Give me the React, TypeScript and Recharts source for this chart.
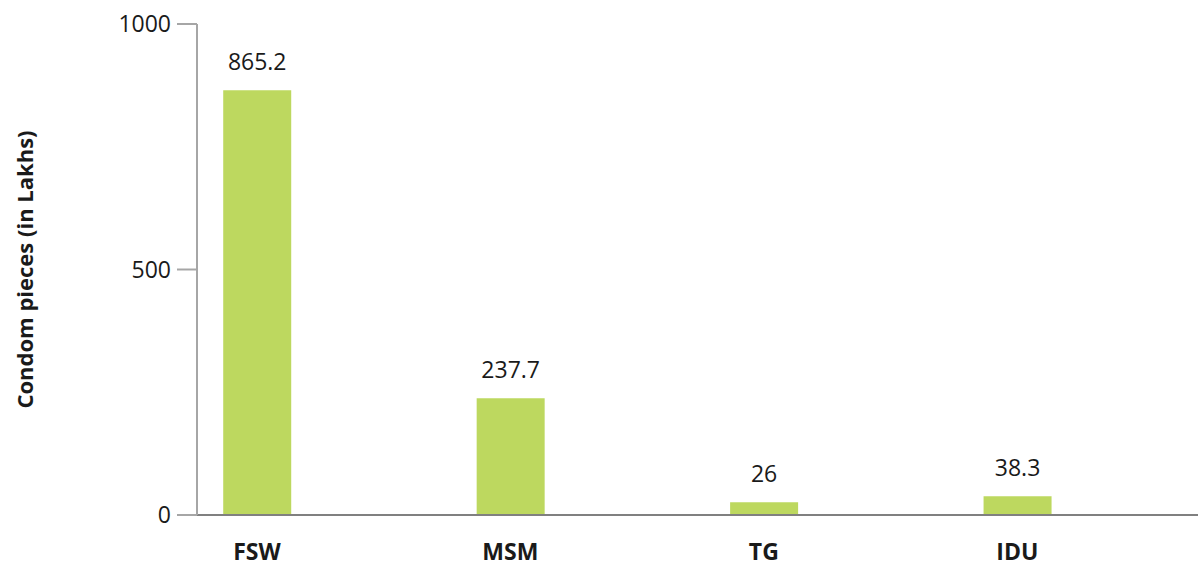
import { BarChart, Bar, XAxis, YAxis, LabelList, Label } from 'recharts';

const categories = ['FSW', 'MSM', 'TG', 'IDU'];
const values = [865.2, 237.7, 26, 38.3];
const yTicks = [0, 500, 1000];

const data = categories.map((name, i) => ({ pos: i, name, value: values[i] }));

const FONT = '"Open Sans", "Noto Sans", sans-serif';

const App = () => {
  return (
    <div style={{ position: 'absolute', left: 0, top: 0, width: 1198, height: 567, background: '#fff' }}>
      <BarChart
        width={1198}
        height={567}
        data={data}
        margin={{ top: 24, right: 0, left: 0, bottom: 22 }}
        barSize={68}
      >
        <XAxis
          dataKey="pos"
          type="number"
          domain={[-0.2365, 3.713]}
          ticks={[0, 1, 2, 3]}
          tickFormatter={(v: number) => categories[v]}
          allowDataOverflow
          tickLine={false}
          tickSize={0}
          tickMargin={29}
          axisLine={{ stroke: '#808080', strokeWidth: 2 }}
          tick={{ fill: '#1a1a1a', fontSize: 23, fontWeight: 700, fontFamily: FONT }}
        />
        <YAxis
          domain={[0, 1000]}
          ticks={yTicks}
          width={197}
          tickSize={20}
          tickMargin={6}
          axisLine={{ stroke: '#a6a6a6', strokeWidth: 2 }}
          tickLine={{ stroke: '#a6a6a6', strokeWidth: 2 }}
          tick={{ fill: '#1a1a1a', fontSize: 23, fontFamily: FONT }}
        >
          <Label
            value="Condom pieces (in Lakhs)"
            angle={-90}
            position="insideLeft"
            offset={25}
            style={{ textAnchor: 'middle', fill: '#1a1a1a', fontSize: 22, fontWeight: 700, fontFamily: FONT }}
          />
        </YAxis>
        <Bar dataKey="value" fill="#bdd85f" isAnimationActive={false}>
          <LabelList
            dataKey="value"
            position="top"
            offset={20}
            style={{ fill: '#1a1a1a', fontSize: 23, fontFamily: FONT }}
          />
        </Bar>
      </BarChart>
    </div>
  );
};

export default App;
